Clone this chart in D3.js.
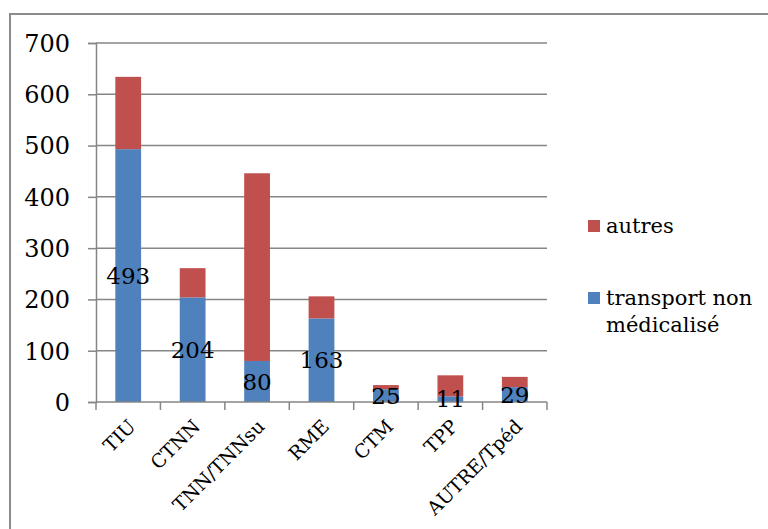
<!DOCTYPE html>
<html>
<head>
<meta charset="utf-8">
<script src="https://cdn.jsdelivr.net/npm/d3@7"></script>
<style>
  html, body { margin: 0; padding: 0; background: #fff; }
  svg { display: block; }
</style>
</head>
<body>
<svg id="chart" width="768" height="529"></svg>
<script>
// Transport categories and counts per category
const categories = ["TIU", "CTNN", "TNN/TNNsu", "RME", "CTM", "TPP", "AUTRE/Tpéd"];
const nonMedical = [493, 204, 80, 163, 25, 11, 29];   // transport non médicalisé
const others     = [141, 57, 366, 43, 8, 41, 20];      // autres
const yTicks = [0, 100, 200, 300, 400, 500, 600, 700];
const seriesNames = ["transport non médicalisé", "autres"];
const seriesColors = ["#4F81BD", "#C0504D"];

const FONT = "'DejaVu Serif', 'Liberation Serif', serif";
const svg = d3.select("#chart");
const plot = { left: 96, right: 547, top: 43, bottom: 402 };

// Outer frame (top and left edges visible)
svg.append("path")
  .attr("d", "M10,529 L10,14 L768,14")
  .attr("fill", "none").attr("stroke", "#8c8c8c").attr("stroke-width", 2);

const x = d3.scaleBand().domain(categories).range([plot.left, plot.right]).paddingInner(0.6).paddingOuter(0.3);
const y = d3.scaleLinear().domain([0, 700]).range([plot.bottom, plot.top]);

// Gridlines
svg.append("g").selectAll("line").data(yTicks.filter(d => d > 0)).join("line")
  .attr("x1", plot.left).attr("x2", plot.right)
  .attr("y1", d => y(d)).attr("y2", d => y(d))
  .attr("stroke", "#868686").attr("stroke-width", 1.5);

// Y axis
const yAxis = svg.append("g").attr("transform", `translate(${plot.left},0)`)
  .call(d3.axisLeft(y).tickValues(yTicks).tickSize(8).tickPadding(18));
yAxis.select(".domain").attr("stroke", "#868686").attr("stroke-width", 1.5);
yAxis.selectAll(".tick line").attr("stroke", "#868686").attr("stroke-width", 1.5);
yAxis.selectAll(".tick text")
  .style("font-size", "24px").style("font-family", FONT).attr("fill", "#000").attr("dy", "0.35em");

// Stacked data
const rows = categories.map((c, i) => ({ cat: c, a: nonMedical[i], b: others[i] }));
const stack = d3.stack().keys(["a", "b"])(rows);

svg.append("g").selectAll("g").data(stack).join("g")
  .attr("fill", (d, i) => seriesColors[i])
  .selectAll("rect").data(d => d).join("rect")
  .attr("x", d => x(d.data.cat))
  .attr("width", x.bandwidth())
  .attr("y", d => y(d[1]))
  .attr("height", d => y(d[0]) - y(d[1]));

// X axis
const xTicksScale = d3.scalePoint().domain(d3.range(categories.length + 1)).range([plot.left, plot.right]);
const xAxis = svg.append("g").attr("transform", `translate(0,${plot.bottom})`);
xAxis.append("line").attr("x1", plot.left).attr("x2", plot.right)
  .attr("stroke", "#868686").attr("stroke-width", 1.5);
xAxis.selectAll("line.tk").data(d3.range(categories.length + 1)).join("line")
  .attr("class", "tk")
  .attr("x1", d => xTicksScale(d)).attr("x2", d => xTicksScale(d))
  .attr("y1", 0).attr("y2", 8)
  .attr("stroke", "#868686").attr("stroke-width", 1.5);
xAxis.selectAll("text").data(categories).join("text")
  .attr("transform", d => `translate(${x(d) + x.bandwidth() / 2 + 4},${21}) rotate(-45)`)
  .attr("text-anchor", "end")
  .attr("dy", "0.35em")
  .style("font-size", "19px")
  .style("font-family", FONT)
  .attr("fill", "#000")
  .text(d => d);

// Value labels centred on the lower segment
svg.append("g").selectAll("text").data(rows).join("text")
  .attr("x", d => x(d.cat) + x.bandwidth() / 2)
  .attr("y", d => (y(0) + y(d.a)) / 2)
  .attr("text-anchor", "middle")
  .attr("dy", "0.35em")
  .style("font-size", "23px")
  .style("font-family", FONT)
  .attr("fill", "#000")
  .text(d => d.a);

// Legend
const legendItems = [
  { name: ["autres"], color: seriesColors[1], y: 226 },
  { name: ["transport non", "médicalisé"], color: seriesColors[0], y: 298 }
];
const lg = svg.append("g").selectAll("g").data(legendItems).join("g");
lg.append("rect").attr("x", 588).attr("y", d => d.y - 6).attr("width", 12).attr("height", 12).attr("fill", d => d.color);
lg.append("text")
  .attr("x", 606).attr("y", d => d.y)
  .style("font-size", "21px")
  .style("font-family", FONT)
  .attr("fill", "#000")
  .selectAll("tspan").data(d => d.name).join("tspan")
  .attr("x", 606)
  .attr("dy", (d, i) => i === 0 ? "0.35em" : "27px")
  .text(d => d);
</script>
</body>
</html>
